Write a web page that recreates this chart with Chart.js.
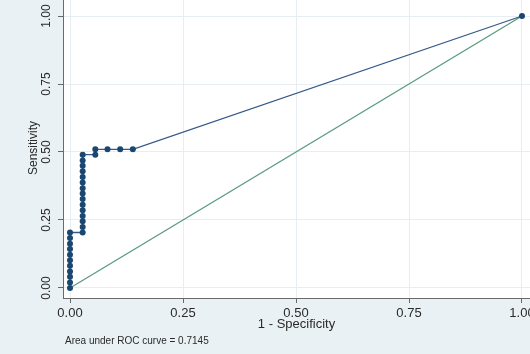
<!DOCTYPE html>
<html>
<head>
<meta charset="utf-8">
<script src="https://cdn.jsdelivr.net/npm/chart.js@4/dist/chart.umd.min.js"></script>
<style>
  html, body { margin: 0; padding: 0; width: 530px; height: 354px; overflow: hidden; background: #eaf1f4; }
  #wrap { position: absolute; left: 0; top: -10px; width: 530px; height: 364px; }
</style>
</head>
<body>
<div id="wrap"><canvas id="roc" width="530" height="364"></canvas></div>
<script>
// ROC curve: 1 - specificity (x) and sensitivity (y) at each cutoff
const falsePositiveRate = [
  0, 0, 0, 0, 0, 0, 0, 0, 0, 0, 0,
  0.028, 0.028, 0.028, 0.028, 0.028, 0.028, 0.028, 0.028,
  0.028, 0.028, 0.028, 0.028, 0.028, 0.028, 0.028,
  0.056, 0.056, 0.083, 0.111, 0.139, 1
];
const sensitivity = [
  0.000, 0.020, 0.041, 0.061, 0.082, 0.102, 0.122, 0.143, 0.163, 0.184, 0.204,
  0.204, 0.224, 0.245, 0.265, 0.286, 0.306, 0.327, 0.347,
  0.367, 0.388, 0.408, 0.429, 0.449, 0.469, 0.490,
  0.490, 0.510, 0.510, 0.510, 0.510, 1.000
];
// Chance diagonal
const refLineX = [0, 1];
const refLineY = [0, 1];

const xTicks = [0, 0.25, 0.5, 0.75, 1];
const yTicks = [0, 0.25, 0.5, 0.75, 1];
const xTickLabels = ['0.00', '0.25', '0.50', '0.75', '1.00'];
const yTickLabels = ['0.00', '0.25', '0.50', '0.75', '1.00'];
const xTitle = '1 - Specificity';
const yTitle = 'Sensitivity';
const aucNote = 'Area under ROC curve = 0.7145';

const rocPoints = falsePositiveRate.map((x, i) => ({ x: x, y: sensitivity[i] }));
const refPoints = refLineX.map((x, i) => ({ x: x, y: refLineY[i] }));

const FONT = "'Liberation Sans', Arial, sans-serif";
const TEXT = '#2a2a2a';
const AXIS = '#6a6a6a';
const GRID = '#e7eef2';

const panelBackground = {
  id: 'panelBackground',
  beforeDraw(chart) {
    const { ctx, chartArea: a } = chart;
    ctx.save();
    ctx.fillStyle = '#eaf1f4';
    ctx.fillRect(0, 0, chart.width, chart.height);
    ctx.fillStyle = '#ffffff';
    ctx.fillRect(a.left, a.top, a.right - a.left, a.bottom - a.top);
    ctx.restore();
  }
};

const noteText = {
  id: 'noteText',
  afterDraw(chart) {
    const { ctx } = chart;
    ctx.save();
    ctx.font = '10px ' + FONT;
    ctx.fillStyle = TEXT;
    ctx.textBaseline = 'middle';
    ctx.textAlign = 'left';
    ctx.fillText(aucNote, 65, 351);
    ctx.restore();
  }
};

new Chart(document.getElementById('roc'), {
  type: 'scatter',
  data: {
    datasets: [
      {
        data: rocPoints,
        showLine: true,
        borderColor: '#36598a',
        borderWidth: 1.3,
        pointRadius: 3,
        pointBackgroundColor: '#1a476f',
        pointBorderColor: '#1a476f',
        pointBorderWidth: 0,
        tension: 0
      },
      {
        data: refPoints,
        showLine: true,
        borderColor: '#5a9a82',
        borderWidth: 1.3,
        pointRadius: 0,
        tension: 0
      }
    ]
  },
  options: {
    responsive: false,
    animation: false,
    events: [],
    layout: { autoPadding: false, padding: { top: 8, left: 0, right: 0, bottom: 0 } },
    plugins: { legend: { display: false }, tooltip: { enabled: false } },
    scales: {
      x: {
        type: 'linear',
        min: -0.0155,
        max: 1.0177,
        afterBuildTicks(scale) { scale.ticks = xTicks.map(v => ({ value: v })); },
        afterFit(scale) { scale.height = 56; scale.paddingLeft = 0; scale.paddingRight = 0; },
        grid: { color: GRID, lineWidth: 1, tickLength: 5, tickColor: AXIS },
        border: { color: AXIS, width: 1 },
        ticks: {
          color: TEXT,
          font: { family: FONT, size: 13 },
          padding: 3,
          maxRotation: 0,
          minRotation: 0,
          callback: (v) => xTickLabels[xTicks.indexOf(v)]
        },
        title: {
          display: true,
          text: xTitle,
          color: TEXT,
          font: { family: FONT, size: 13 },
          padding: { top: 0, bottom: 22 }
        }
      },
      y: {
        type: 'linear',
        min: -0.0368,
        max: 1.0662,
        afterBuildTicks(scale) { scale.ticks = yTicks.map(v => ({ value: v })); },
        afterFit(scale) { scale.width = 63; scale.paddingTop = 0; scale.paddingBottom = 0; },
        grid: { color: GRID, lineWidth: 1, tickLength: 5, tickColor: AXIS },
        border: { color: AXIS, width: 1 },
        ticks: {
          color: TEXT,
          font: { family: FONT, size: 12 },
          padding: 0,
          minRotation: 90,
          maxRotation: 90,
          crossAlign: 'center',
          callback: (v) => yTickLabels[yTicks.indexOf(v)]
        },
        title: {
          display: true,
          text: yTitle,
          color: TEXT,
          font: { family: FONT, size: 12 },
          padding: { top: 26, bottom: 0 }
        }
      }
    }
  },
  plugins: [panelBackground, noteText]
});
</script>
</body>
</html>
